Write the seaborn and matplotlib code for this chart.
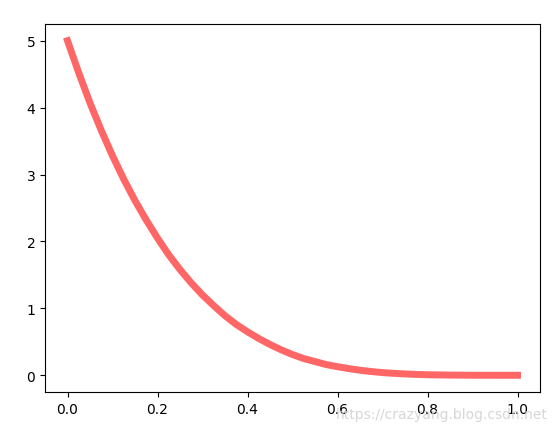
import matplotlib
matplotlib.use("Agg")
import matplotlib.pyplot as plt
import seaborn as sns

# values
x_vals = [0.000, 0.025, 0.050, 0.075, 0.100, 0.125, 0.150, 0.175, 0.200,
          0.225, 0.250, 0.275, 0.300, 0.325, 0.350, 0.375, 0.400, 0.425,
          0.450, 0.475, 0.500, 0.525, 0.550, 0.575, 0.600, 0.625, 0.650,
          0.675, 0.700, 0.725, 0.750, 0.775, 0.800, 0.850, 0.900, 0.950, 1.000]
y_vals = [5.00, 4.52, 4.07, 3.66, 3.28, 2.93, 2.61, 2.32, 2.05,
          1.80, 1.58, 1.38, 1.20, 1.04, 0.89, 0.76, 0.65, 0.55,
          0.46, 0.38, 0.31, 0.25, 0.205, 0.16, 0.128, 0.10, 0.075,
          0.056, 0.04, 0.029, 0.02, 0.013, 0.008, 0.003, 0.0005, 0.0, 0.0]
watermark = "https://crazyang.blog.csdn.net"

fig = plt.figure(figsize=(5.57, 4.31), dpi=100)
ax = fig.add_axes([45 / 557, 1 - 393 / 431, 495 / 557, 368 / 431])

sns.lineplot(x=x_vals, y=y_vals, ax=ax, color="r", alpha=0.6, linewidth=5)

ax.set_xticks([0.0, 0.2, 0.4, 0.6, 0.8, 1.0])
ax.set_yticks([0, 1, 2, 3, 4, 5])

# faint blog watermark over the bottom-right tick labels
fig.text(0.983, 0.022, watermark, ha="right", va="bottom",
         fontsize=10, color="#d0d0d0", alpha=0.85)

fig.savefig("out.png", dpi=100)
